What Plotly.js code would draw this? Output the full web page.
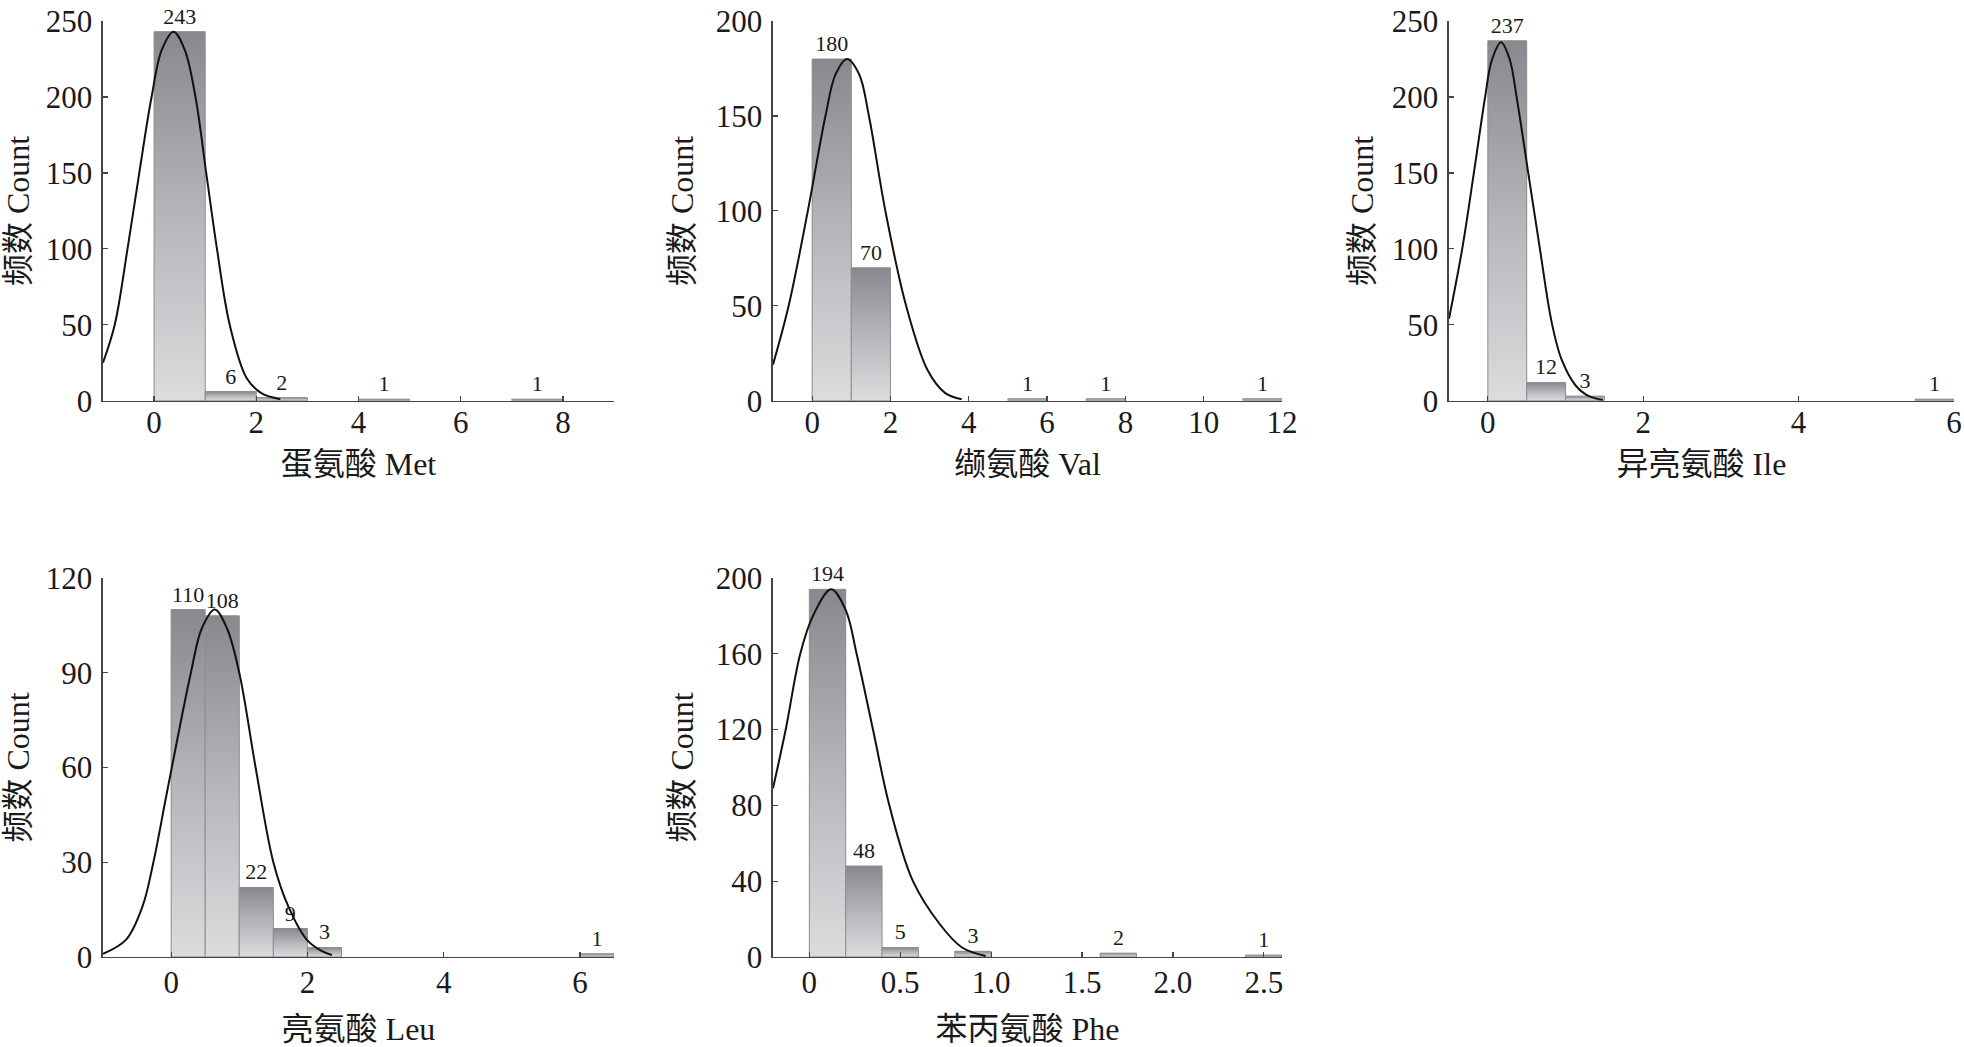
<!DOCTYPE html>
<html>
<head>
<meta charset="utf-8">
<script src="https://cdn.plot.ly/plotly-3.0.1.min.js"></script>
<style>html,body{margin:0;padding:0;background:#fff;}#chart{width:1964px;height:1047px;}</style>
</head>
<body>
<div id="chart"></div>
<script>
// ---------- data ----------
// 蛋氨酸 Met
const metBinStart = [0, 1, 2, 4, 7];
const metCounts   = [243, 6, 2, 1, 1];
const metBinWidth = 1;
const metCurveX = [-1, -0.77, -0.52, -0.29, -0.05, 0.15, 0.38, 0.6, 0.81, 1.02, 1.23, 1.48, 1.81, 2.1, 2.47];
const metCurveY = [25, 50, 100, 150, 200, 231, 243, 231, 200, 150, 100, 50, 15, 5, 1];
const metXTicks = [0, 2, 4, 6, 8];
const metYTicks = [0, 50, 100, 150, 200, 250];

// 缬氨酸 Val
const valBinStart = [0, 1, 5, 7, 11];
const valCounts   = [180, 70, 1, 1, 1];
const valBinWidth = 1;
const valCurveX = [-1, -0.6, -0.11, 0.34, 0.6, 0.89, 1.2, 1.45, 1.87, 2.4, 2.95, 3.4, 3.82];
const valCurveY = [19, 50, 100, 150, 172, 180, 172, 150, 100, 50, 16, 4, 0.8];
const valXTicks = [0, 2, 4, 6, 8, 10, 12];
const valYTicks = [0, 50, 100, 150, 200];

// 异亮氨酸 Ile
const ileBinStart = [0, 0.5, 1, 5.5];
const ileCounts   = [237, 12, 3, 1];
const ileBinWidth = 0.5;
const ileCurveX = [-0.5, -0.33, -0.18, -0.035, 0.05, 0.17, 0.28, 0.37, 0.52, 0.67, 0.82, 0.95, 1.13, 1.3, 1.48];
const ileCurveY = [54, 100, 150, 200, 224, 236, 225, 200, 150, 100, 52, 27, 10, 3, 0.5];
const ileXTicks = [0, 2, 4, 6];
const ileYTicks = [0, 50, 100, 150, 200, 250];

// 亮氨酸 Leu
const leuBinStart = [0, 0.5, 1, 1.5, 2, 6];
const leuCounts   = [110, 108, 22, 9, 3, 1];
const leuBinWidth = 0.5;
const leuCurveX = [-1, -0.66, -0.42, -0.26, -0.08, 0.01, 0.29, 0.45, 0.64, 0.82, 1.0, 1.24, 1.5, 1.72, 1.99, 2.2, 2.36];
const leuCurveY = [1, 5.5, 16, 30, 50, 60, 90, 104, 110, 104, 90, 60, 30, 16, 5.5, 2, 0.6];
const leuXTicks = [0, 2, 4, 6];
const leuYTicks = [0, 30, 60, 90, 120];

// 苯丙氨酸 Phe
const pheBinStart = [0, 0.2, 0.4, 0.8, 1.6, 2.4];
const pheCounts   = [194, 48, 5, 3, 2, 1];
const pheBinWidth = 0.2;
const pheCurveX = [-0.2, -0.13, -0.05, 0.02, 0.12, 0.2, 0.26, 0.35, 0.44, 0.57, 0.72, 0.84, 0.97];
const pheCurveY = [89, 120, 160, 180, 194, 183, 160, 120, 80, 40, 17, 5, 0.5];
const pheXTicks = [0, 0.5, 1.0, 1.5, 2.0, 2.5];
const pheXTickText = ['0', '0.5', '1.0', '1.5', '2.0', '2.5'];
const pheYTicks = [0, 40, 80, 120, 160, 200];

const yTitle = '频数 Count';
const xTitles = ['蛋氨酸 Met', '缬氨酸 Val', '异亮氨酸 Ile', '亮氨酸 Leu', '苯丙氨酸 Phe'];

// ---------- styling ----------
const FONT = 'Liberation Serif, Times New Roman, Noto Sans CJK SC, serif';
const INK = '#1a1a1a';
const AXIS = '#444444';
const GRAD = [[0, '#dcdcde'], [0.5, '#b5b6ba'], [1, '#88898e']];

const panels = [
  {n: '',  bins: metBinStart, counts: metCounts, w: metBinWidth, cx: metCurveX, cy: metCurveY,
   xr: [-1, 9], yr: [0, 250], xt: metXTicks, xtt: metXTicks.map(String), yt: metYTicks,
   xd: [0.05244, 0.31263], yd: [0.6173, 0.9799], title: xTitles[0], ys: 6},
  {n: '2', bins: valBinStart, counts: valCounts, w: valBinWidth, cx: valCurveX, cy: valCurveY,
   xr: [-1, 12], yr: [0, 200], xt: valXTicks, xtt: valXTicks.map(String), yt: valYTicks,
   xd: [0.39358, 0.65275], yd: [0.6173, 0.9799], title: xTitles[1], ys: 12},
  {n: '3', bins: ileBinStart, counts: ileCounts, w: ileBinWidth, cx: ileCurveX, cy: ileCurveY,
   xr: [-0.5, 6], yr: [0, 250], xt: ileXTicks, xtt: ileXTicks.map(String), yt: ileYTicks,
   xd: [0.73778, 0.99491], yd: [0.6173, 0.9799], title: xTitles[2], ys: 8},
  {n: '4', bins: leuBinStart, counts: leuCounts, w: leuBinWidth, cx: leuCurveX, cy: leuCurveY,
   xr: [-1, 6.5], yr: [0, 120], xt: leuXTicks, xtt: leuXTicks.map(String), yt: leuYTicks,
   xd: [0.05244, 0.31263], yd: [0.0860, 0.4480], title: xTitles[3], ys: 6},
  {n: '5', bins: pheBinStart, counts: pheCounts, w: pheBinWidth, cx: pheCurveX, cy: pheCurveY,
   xr: [-0.2, 2.6], yr: [0, 200], xt: pheXTicks, xtt: pheXTickText, yt: pheYTicks,
   xd: [0.39358, 0.65275], yd: [0.0860, 0.4480], title: xTitles[4], ys: 12}
];

const data = [];
const layout = {
  width: 1964, height: 1047,
  margin: {l: 0, r: 0, t: 0, b: 0},
  paper_bgcolor: '#ffffff', plot_bgcolor: '#ffffff',
  showlegend: false,
  font: {family: FONT, color: INK}
};

panels.forEach(p => {
  const xa = 'x' + p.n, ya = 'y' + p.n;
  // bar trace (labels + base colour)
  data.push({
    type: 'bar', x: p.bins, y: p.counts, width: p.w, offset: 0,
    xaxis: xa, yaxis: ya,
    marker: {color: '#b5b6ba', line: {width: 0}},
    text: p.counts.map(String), textposition: 'outside', constraintext: 'none',
    textfont: {family: FONT, size: 22, color: INK}, cliponaxis: false,
    hoverinfo: 'x+y'
  });
  // gradient fill of each bar
  p.bins.forEach((b, i) => {
    const c = p.counts[i];
    data.push({
      type: 'scatter', mode: 'lines', xaxis: xa, yaxis: ya,
      x: [b, b, b + p.w, b + p.w, b], y: [0, c, c, 0, 0],
      fill: 'toself',
      fillgradient: {type: 'vertical', start: 0, stop: c, colorscale: GRAD},
      line: {color: '#8e8e8e', width: 1},
      hoverinfo: 'skip'
    });
  });
  // normal curve
  data.push({
    type: 'scatter', mode: 'lines', xaxis: xa, yaxis: ya,
    x: p.cx, y: p.cy, line: {color: '#111111', width: 2, shape: 'spline', smoothing: 1},
    cliponaxis: false, hoverinfo: 'skip'
  });

  const bottomRow = (p.n === '4' || p.n === '5');
  layout['xaxis' + p.n] = {
    domain: p.xd, range: p.xr, anchor: ya, fixedrange: true,
    tickmode: 'array', tickvals: p.xt, ticktext: p.xtt,
    ticks: 'inside', ticklen: 5, tickwidth: 1.2, tickcolor: AXIS,
    showline: true, linecolor: AXIS, linewidth: 1.5,
    showgrid: false, zeroline: false, ticklabelstandoff: bottomRow ? -3 : -6,
    tickfont: {family: FONT, size: 31, color: INK},
    title: {text: p.title, font: {family: FONT, size: 32, color: INK}, standoff: bottomRow ? 22 : 13}
  };
  layout['yaxis' + p.n] = {
    domain: p.yd, range: p.yr, anchor: xa, fixedrange: true,
    tickmode: 'array', tickvals: p.yt,
    ticks: 'inside', ticklen: 5, tickwidth: 1.2, tickcolor: AXIS,
    showline: true, linecolor: AXIS, linewidth: 1.5,
    showgrid: false, zeroline: false, ticklabelstandoff: 3,
    tickfont: {family: FONT, size: 31, color: INK},
    title: {text: yTitle, font: {family: FONT, size: 32, color: INK}, standoff: p.ys}
  };
});

Plotly.newPlot('chart', data, layout, {staticPlot: true, displayModeBar: false});
</script>
</body>
</html>
